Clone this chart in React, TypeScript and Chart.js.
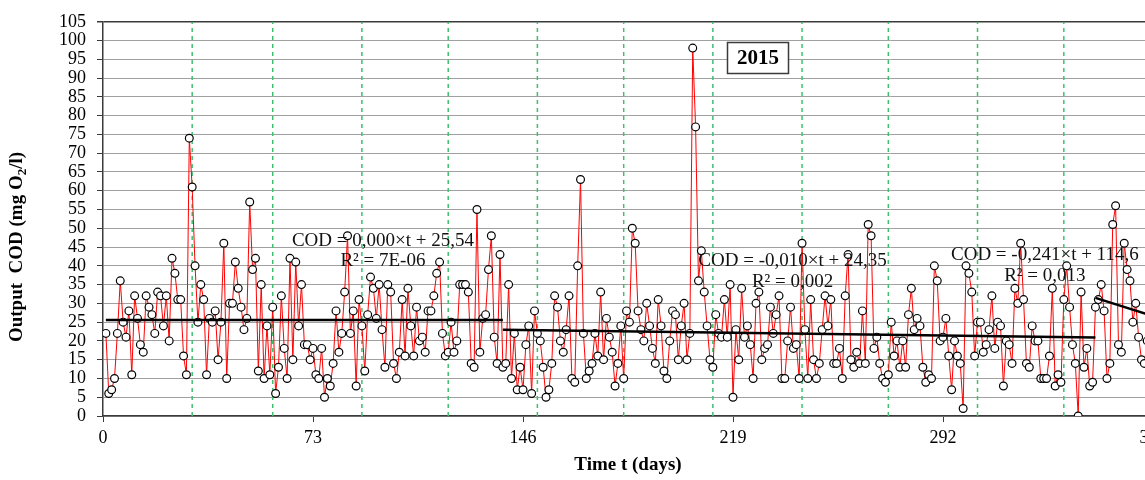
import React, { useEffect, useRef } from 'react';
import { Chart, registerables } from 'chart.js';

Chart.register(...registerables);

// Daily output COD values (mg O2/l), day 1..365 of 2015
const COD: number[] = [
  22, 6, 7, 10, 22, 36, 25, 21, 28, 11,
  32, 26, 19, 17, 32, 29, 27, 22, 33, 32,
  24, 32, 20, 42, 38, 31, 31, 16, 11, 74,
  61, 40, 25, 35, 31, 11, 26, 25, 28, 15,
  25, 46, 10, 30, 30, 41, 34, 29, 23, 26,
  57, 39, 42, 12, 35, 10, 24, 11, 29, 6,
  13, 32, 18, 10, 42, 15, 41, 24, 35, 19,
  19, 15, 18, 11, 10, 18, 5, 10, 8, 14,
  28, 17, 22, 33, 48, 22, 28, 8, 31, 24,
  12, 27, 37, 34, 26, 35, 23, 13, 35, 33,
  14, 10, 17, 31, 16, 34, 24, 16, 29, 20,
  21, 17, 28, 28, 32, 38, 41, 22, 16, 17,
  25, 17, 20, 35, 35, 35, 33, 14, 13, 55,
  17, 26, 27, 39, 48, 21, 14, 43, 13, 14,
  35, 10, 22, 7, 13, 7, 19, 24, 6, 28,
  22, 20, 13, 5, 7, 14, 32, 29, 20, 17,
  23, 32, 10, 9, 40, 63, 22, 10, 12, 14,
  22, 16, 33, 15, 26, 21, 17, 8, 14, 24,
  10, 28, 25, 50, 46, 28, 23, 20, 30, 24,
  18, 14, 31, 24, 12, 10, 20, 28, 27, 15,
  24, 30, 15, 22, 98, 77, 36, 44, 33, 24,
  15, 13, 27, 22, 21, 31, 21, 35, 5, 23,
  15, 34, 21, 24, 19, 10, 30, 33, 15, 18,
  19, 29, 22, 27, 32, 10, 10, 20, 29, 18,
  19, 10, 46, 23, 10, 31, 15, 10, 14, 23,
  32, 24, 31, 14, 14, 18, 10, 32, 43, 15,
  13, 17, 14, 28, 14, 51, 48, 18, 21, 14,
  10, 9, 11, 25, 16, 20, 13, 20, 13, 27,
  34, 23, 26, 24, 13, 9, 11, 10, 40, 36,
  20, 21, 26, 16, 7, 20, 16, 14, 2, 40,
  38, 33, 16, 25, 25, 17, 19, 23, 32, 18,
  25, 24, 8, 20, 19, 14, 34, 30, 46, 31,
  14, 13, 24, 20, 20, 10, 10, 10, 16, 34,
  8, 11, 9, 31, 40, 29, 19, 14, 0, 33,
  13, 18, 8, 9, 29, 31, 35, 28, 10, 14,
  51, 56, 19, 17, 46, 39, 36, 25, 30, 21,
  15, 14, 20, 17, 22,
];
const DAYS: number[] = COD.map((_, i) => i + 1);

const X_TICKS = [0, 73, 146, 219, 292, 365];
const Y_TICKS = [0, 5, 10, 15, 20, 25, 30, 35, 40, 45, 50, 55, 60, 65, 70, 75, 80, 85, 90, 95, 100, 105];
const MONTH_STARTS = [31, 59, 90, 120, 151, 181, 212, 243, 273, 304, 334];

// Linear trend segments: COD = slope * t + intercept
const TREND_SLOPE = [0.0, -0.01, -0.241];
const TREND_INTERCEPT = [25.54, 24.35, 114.6];
const TREND_FROM = [1, 139, 345];
const TREND_TO = [139, 345, 365];
const TREND_EQ = ['COD = 0,000×t + 25,54', 'COD = -0,010×t + 24,35', 'COD = -0,241×t + 114,6'];
const TREND_R2 = ['R² = 7E-06', 'R² = 0,002', 'R² = 0,013'];
const YEAR_LABEL = '2015';

// Label placements (data coordinates)
const EQ_POS = [
  { x: 97.3, y: 46.7, y2: 41.4 },
  { x: 239.7, y: 41.4, y2: 35.7 },
  { x: 327.4, y: 42.9, y2: 37.4 },
];

const SERIF = "'Liberation Serif', 'Times New Roman', serif";
const GREEN = '#3fc06e';
const DARK = '#3a3a3a';

const overlayPlugin = {
  id: 'overlay',
  afterDraw(chart: any) {
    const { ctx } = chart;
    const xs = chart.scales.x;
    const ys = chart.scales.y;
    ctx.save();
    // Trend equations
    ctx.fillStyle = '#111';
    ctx.textAlign = 'center';
    ctx.textBaseline = 'middle';
    ctx.font = `19px ${SERIF}`;
    EQ_POS.forEach((p, i) => {
      const px = xs.getPixelForValue(p.x);
      ctx.fillText(TREND_EQ[i], px, ys.getPixelForValue(p.y));
      ctx.fillText(TREND_R2[i], px, ys.getPixelForValue(p.y2));
    });
    // Year box
    const bx = 727.5, by = 42.5, bw = 61, bh = 31;
    ctx.fillStyle = '#fff';
    ctx.fillRect(bx, by, bw, bh);
    ctx.strokeStyle = DARK;
    ctx.lineWidth = 1.5;
    ctx.strokeRect(bx, by, bw, bh);
    ctx.fillStyle = '#000';
    ctx.font = `bold 21px ${SERIF}`;
    ctx.fillText(YEAR_LABEL, bx + bw / 2, by + bh / 2 + 1);
    // Y axis title with subscript
    ctx.translate(16, 247);
    ctx.rotate(-Math.PI / 2);
    const main = `bold 19px ${SERIF}`;
    const sub = `bold 13px ${SERIF}`;
    const p1 = 'Output  COD (mg O';
    const p2 = '2';
    const p3 = '/l)';
    ctx.font = main;
    const w1 = ctx.measureText(p1).width;
    const w3 = ctx.measureText(p3).width;
    ctx.font = sub;
    const w2 = ctx.measureText(p2).width;
    let cx = -(w1 + w2 + w3) / 2;
    ctx.textAlign = 'left';
    ctx.textBaseline = 'alphabetic';
    ctx.font = main;
    ctx.fillText(p1, cx, 6);
    cx += w1;
    ctx.font = sub;
    ctx.fillText(p2, cx, 10);
    cx += w2;
    ctx.font = main;
    ctx.fillText(p3, cx, 6);
    ctx.restore();
  },
};

export default function App() {
  const canvasRef = useRef<HTMLCanvasElement | null>(null);

  useEffect(() => {
    const canvas = canvasRef.current;
    if (!canvas) return;

    const monthSets = MONTH_STARTS.map((m) => ({
      type: 'line' as const,
      data: [{ x: m, y: 0 }, { x: m, y: 105 }],
      borderColor: GREEN,
      borderWidth: 1.5,
      borderDash: [4, 4],
      pointRadius: 0,
      order: 3,
    }));

    const trendSets = TREND_SLOPE.map((s, i) => ({
      type: 'line' as const,
      data: [
        { x: TREND_FROM[i], y: s * TREND_FROM[i] + TREND_INTERCEPT[i] },
        { x: TREND_TO[i], y: s * TREND_TO[i] + TREND_INTERCEPT[i] },
      ],
      borderColor: '#000',
      borderWidth: 2.5,
      pointRadius: 0,
      order: 1,
    }));

    const chart = new Chart(canvas, {
      type: 'line',
      data: {
        datasets: [
          ...monthSets,
          {
            data: DAYS.map((d, i) => ({ x: d, y: COD[i] })),
            borderColor: '#ff0000',
            borderWidth: 1,
            pointRadius: 3.9,
            pointBackgroundColor: '#ffffff',
            pointBorderColor: '#000000',
            pointBorderWidth: 1.2,
            tension: 0,
            order: 2,
          },
          ...trendSets,
        ] as any,
      },
      options: {
        animation: false,
        responsive: false,
        maintainAspectRatio: false,
        devicePixelRatio: 1,
        layout: { padding: { top: 20, right: 47, bottom: 0, left: 0 } },
        plugins: {
          legend: { display: false },
          tooltip: { enabled: false },
        },
        scales: {
          x: {
            type: 'linear',
            min: 0,
            max: 365,
            afterBuildTicks: (scale: any) => {
              scale.ticks = X_TICKS.map((v) => ({ value: v }));
            },
            afterFit: (scale: any) => {
              scale.height = 64;
            },
            ticks: {
              font: { family: SERIF, size: 18 },
              color: '#000',
              padding: 5,
              maxRotation: 0,
              autoSkip: false,
            },
            grid: {
              drawOnChartArea: false,
              drawTicks: true,
              tickLength: 6,
              color: DARK,
              lineWidth: 1,
            },
            border: { display: true, color: DARK, width: 1.5 },
            title: {
              display: true,
              text: 'Time t (days)',
              color: '#000',
              font: { family: SERIF, size: 19, weight: 'bold' },
              padding: { top: 0, bottom: 4 },
            },
          },
          y: {
            type: 'linear',
            min: 0,
            max: 105,
            afterBuildTicks: (scale: any) => {
              scale.ticks = Y_TICKS.map((v) => ({ value: v }));
            },
            afterFit: (scale: any) => {
              scale.width = 103;
            },
            ticks: {
              font: { family: SERIF, size: 18 },
              color: '#000',
              padding: 11,
              autoSkip: false,
            },
            grid: {
              color: (c: any) => (c.tick && c.tick.value === 105 ? DARK : '#a0a0a0'),
              lineWidth: (c: any) => (c.tick && c.tick.value === 105 ? 1.5 : 1),
              tickColor: DARK,
              tickLength: 6,
              drawTicks: true,
            },
            border: { display: true, color: DARK, width: 1.5 },
          },
        },
      } as any,
      plugins: [overlayPlugin],
    });

    return () => {
      chart.destroy();
    };
  }, []);

  return (
    <div
      style={{
        position: 'absolute',
        left: 0,
        top: 0,
        width: 1145,
        height: 480,
        overflow: 'hidden',
        background: '#fff',
      }}
    >
      <canvas ref={canvasRef} width={1200} height={480} style={{ display: 'block', width: 1200, height: 480 }} />
    </div>
  );
}
